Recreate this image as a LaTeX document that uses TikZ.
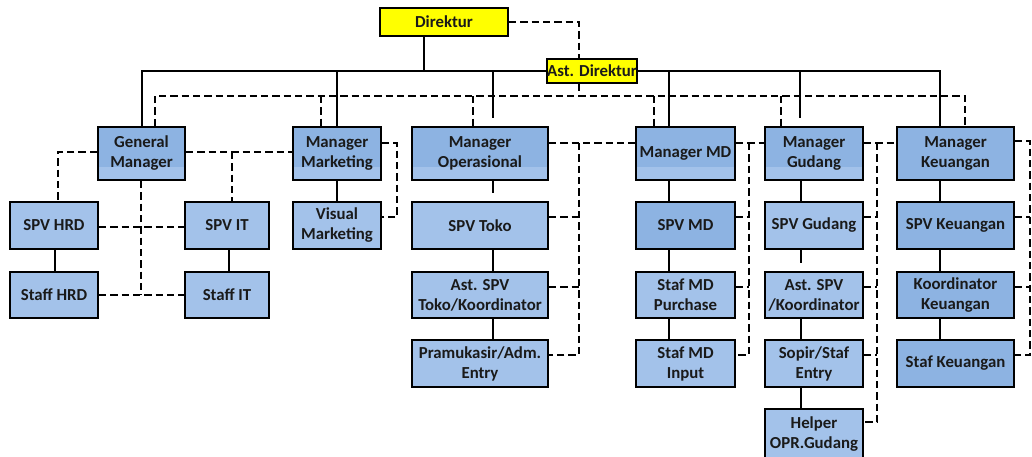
\documentclass[tikz,border=0pt]{standalone}
\usepackage{fontspec}
\setmainfont{Carlito}
\usetikzlibrary{calc}
\definecolor{bdark}{HTML}{8DB3E2}
\definecolor{blight}{HTML}{A3C2EA}
\definecolor{yel}{HTML}{FFFF00}
\definecolor{txt}{HTML}{1A1A1A}
\def\mybox#1#2(#3,#4)(#5,#6)#7{\node[#1, minimum width={0.75pt*(#5-#3)}, minimum height={0.75pt*(#6-#4)}] (#2) at ({(#3+#5)/2},{(#4+#6)/2}) {#7};}
\begin{document}
\begin{tikzpicture}[x=0.75pt,y=-0.75pt,
  box/.style={draw=black, line width=1.5pt, inner sep=0pt, align=center, text=txt, font=\bfseries\fontsize{12.6}{15}\selectfont},
  dk/.style={box, fill=bdark},
  lt/.style={box, fill=blight},
  topbox/.style={box, fill=bdark, path picture={\fill[blight] ([yshift=9.75pt]path picture bounding box.south west) rectangle (path picture bounding box.south east);}},
  ylw/.style={box, fill=yel},
  sol/.style={line width=1.6pt},
  dsh/.style={line width=1.6pt, dash pattern=on 5.5pt off 3pt}]
\useasboundingbox (0,0) rectangle (1032,457);
\clip (0,0) rectangle (1032,457);
% ---- nodes ----
\mybox{ylw}{dir}(380,8)(508,36){Direktur}
\mybox{ylw}{ast}(548,59)(636,83){Ast. Direktur}
% row 1
\mybox{topbox}{gm}(98,127)(185,180){General\\Manager}
\mybox{topbox}{mm}(293,127)(381,180){Manager\\Marketing}
\mybox{topbox}{mo}(412,127)(548,180){Manager\\Operasional}
\mybox{topbox}{md}(636,127)(735,180){Manager MD}
\mybox{topbox}{mg}(765,127)(863,180){Manager\\Gudang}
\mybox{dk}{mk}(897,127)(1014,180){Manager\\Keuangan}
% row 2
\mybox{lt}{spvhrd}(10,202)(98,249){SPV HRD}
\mybox{lt}{spvit}(185,202)(269,249){SPV IT}
\mybox{lt}{vm}(293,202)(381,249){Visual\\Marketing}
\mybox{lt}{spvtoko}(412,202)(548,249){SPV Toko}
\mybox{dk}{spvmd}(636,202)(735,249){SPV MD}
\mybox{lt}{spvgud}(765,202)(863,249){SPV Gudang}
\mybox{dk}{spvkeu}(897,202)(1014,249){SPV Keuangan}
% row 3
\mybox{lt}{sthrd}(10,272)(98,318){Staff HRD}
\mybox{lt}{stit}(185,272)(269,318){Staff IT}
\mybox{lt}{asttoko}(412,272)(548,318){Ast. SPV\\Toko/Koordinator}
\mybox{lt}{mdp}(636,272)(735,318){Staf MD\\Purchase}
\mybox{lt}{astgud}(765,272)(863,318){Ast. SPV\\/Koordinator}
\mybox{dk}{kk}(897,272)(1014,318){Koordinator\\Keuangan}
% row 4
\mybox{lt}{pram}(412,340)(548,387){Pramukasir/Adm.\\Entry}
\mybox{lt}{mdi}(636,340)(735,387){Staf MD\\Input}
\mybox{lt}{sopir}(765,340)(863,387){Sopir/Staf\\Entry}
\mybox{dk}{sk}(897,340)(1014,387){Staf Keuangan}
% row 5
\mybox{lt}{helper}(765,409)(863,459){Helper\\OPR.Gudang}
% ---- solid connectors ----
\draw[sol] (dir.south -| 424,0) -- (424,71);
\draw[sol] (gm.north -| 142,0) -- (142,71) -- (ast.west);
\draw[sol] (ast.east) -- (940,71) -- (mk.north -| 940,0);
\draw[sol] (337,71) -- (mm.north);
\draw[sol] (493,71) -- (493,118);
\draw[sol] (669,71) -- (md.north -| 669,0);
\draw[sol] (800,71) -- (800,118);
\draw[sol] (spvhrd.south -| 55,0) -- (sthrd.north -| 55,0);
\draw[sol] (spvit.south -| 229,0) -- (stit.north -| 229,0);
\draw[sol] (mm.south) -- (vm.north);
\draw[sol] (mo.south -| 493,0) -- (493,193);
\draw[sol] (spvtoko.south -| 493,0) -- (asttoko.north -| 493,0);
\draw[sol] (asttoko.south -| 493,0) -- (pram.north -| 493,0);
\draw[sol] (md.south -| 669,0) -- (spvmd.north -| 669,0);
\draw[sol] (spvmd.south -| 669,0) -- (mdp.north -| 669,0);
\draw[sol] (mdp.south -| 669,0) -- (mdi.north -| 669,0);
\draw[sol] (mg.south -| 801,0) -- (spvgud.north -| 801,0);
\draw[sol] (spvgud.south -| 801,0) -- (801,263);
\draw[sol] (astgud.south -| 801,0) -- (sopir.north -| 801,0);
\draw[sol] (sopir.south -| 801,0) -- (helper.north -| 801,0);
\draw[sol] (mk.south -| 940,0) -- (spvkeu.north -| 940,0);
\draw[sol] (spvkeu.south -| 940,0) -- (kk.north -| 940,0);
\draw[sol] (kk.south -| 940,0) -- (sk.north -| 940,0);
% ---- dashed connectors ----
\draw[dsh] (dir.east) -- (579,22) -- (ast.north -| 579,0);
\draw[dsh] (ast.south -| 579,0) -- (579,96);
\draw[dsh] (gm.north -| 155,0) -- (155,96) -- (965,96) -- (mk.north -| 965,0);
\draw[dsh] (321,96) -- (mm.north -| 321,0);
\draw[dsh] (473,96) -- (mo.north -| 473,0);
\draw[dsh] (654,96) -- (md.north -| 654,0);
\draw[dsh] (781,96) -- (mg.north -| 781,0);
\draw[dsh] (gm.west |- 0,152) -- (58,152) -- (spvhrd.north -| 58,0);
\draw[dsh] (gm.east |- 0,152) -- (mm.west |- 0,152);
\draw[dsh] (232,152) -- (spvit.north -| 232,0);
\draw[dsh] (gm.south -| 141,0) -- (141,295);
\draw[dsh] (sthrd.east |- 0,295) -- (stit.west |- 0,295);
\draw[dsh] (spvhrd.east |- 0,227) -- (spvit.west |- 0,227);
\draw[dsh] (mm.east |- 0,143) -- (397,143) -- (397,217) -- (vm.east |- 0,217);
\draw[dsh] (mo.east |- 0,143) -- (md.west |- 0,143);
\draw[dsh] (579,143) -- (579,355) -- (pram.east |- 0,355);
\draw[dsh] (spvtoko.east |- 0,217) -- (579,217);
\draw[dsh] (asttoko.east |- 0,287) -- (579,287);
\draw[dsh] (md.east |- 0,143) -- (mg.west |- 0,143);
\draw[dsh] (749,143) -- (749,355) -- (mdi.east |- 0,355);
\draw[dsh] (spvmd.east |- 0,217) -- (749,217);
\draw[dsh] (mdp.east |- 0,287) -- (749,287);
\draw[dsh] (mg.east |- 0,143) -- (mk.west |- 0,143);
\draw[dsh] (877,143) -- (877,422) -- (helper.east |- 0,422);
\draw[dsh] (spvgud.east |- 0,217) -- (877,217);
\draw[dsh] (astgud.east |- 0,287) -- (877,287);
\draw[dsh] (sopir.east |- 0,355) -- (877,355);
\draw[dsh] (mk.east |- 0,141) -- (1030,141) -- (1030,355) -- (sk.east |- 0,355);
\draw[dsh] (spvkeu.east |- 0,217) -- (1030,217);
\draw[dsh] (kk.east |- 0,287) -- (1030,287);
\end{tikzpicture}
\end{document}
